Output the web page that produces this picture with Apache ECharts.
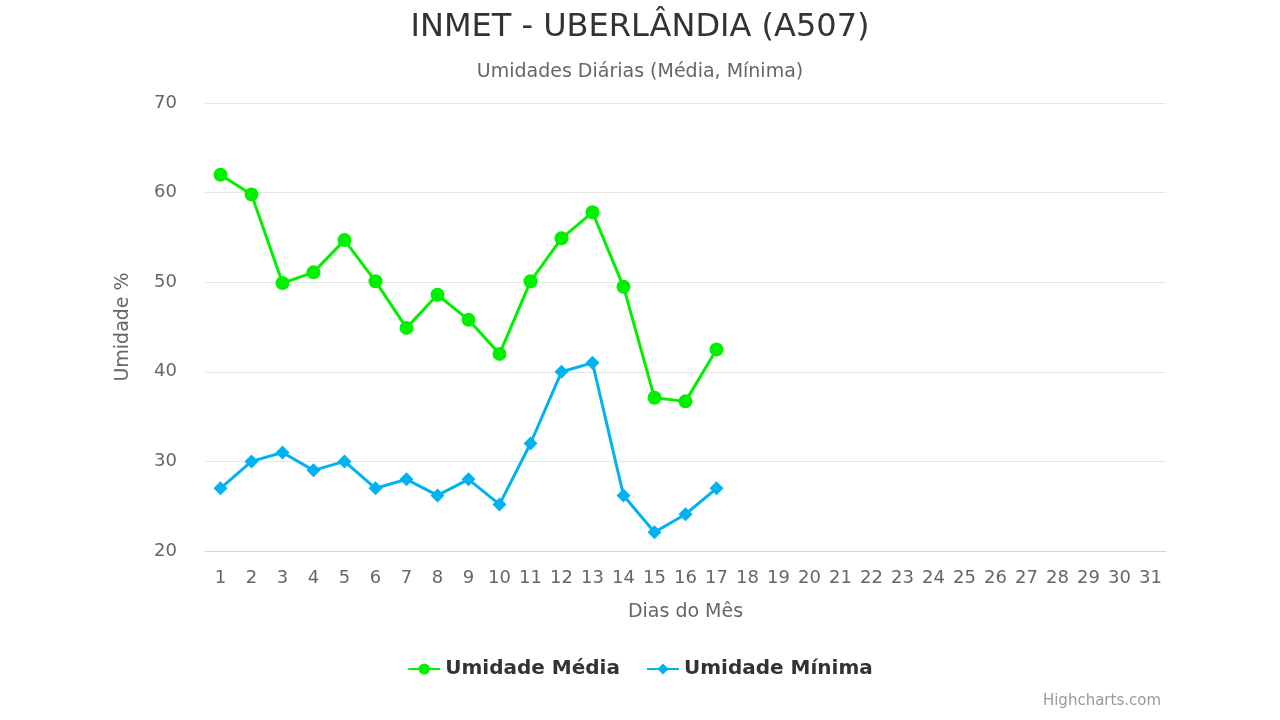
<!DOCTYPE html>
<html><head><meta charset="utf-8">
<script src="https://cdn.jsdelivr.net/npm/echarts@6/dist/echarts.min.js"></script>
<style>html,body{margin:0;padding:0;background:#fff}#c{width:1280px;height:720px}</style>
</head><body><div id="c"></div>
<script>
const days = Array.from({length:31},(_,i)=>String(i+1));
const umidadeMedia = [62, 59.8, 49.9, 51.1, 54.7, 50.1, 44.9, 48.6, 45.8, 42, 50.1, 54.9, 57.8, 49.5, 37.1, 36.7, 42.5];
const umidadeMinima = [27, 30, 31, 29, 30, 27, 28, 26.2, 28, 25.2, 32, 40, 41, 26.2, 22.1, 24.1, 27];
const F = 'DejaVu Sans';
const chart = echarts.init(document.getElementById('c'));
chart.setOption({
  animation:false,
  textStyle:{fontFamily:F},
  title:[{text:'INMET - UBERLÂNDIA (A507)',left:'center',top:7,textStyle:{fontFamily:F,fontSize:32,fontWeight:'normal',color:'#333'}},
         {text:'Umidades Diárias (Média, Mínima)',left:'center',top:58,textStyle:{fontFamily:F,fontSize:19,fontWeight:'normal',color:'#666'}},
         {text:'Highcharts.com',right:114,bottom:6,textStyle:{fontFamily:F,fontSize:15,fontWeight:'normal',color:'#999'}}],
  grid:{left:205,right:114,top:103,bottom:169},
  xAxis:{type:'category',data:days,boundaryGap:true,
    name:'Dias do Mês',nameLocation:'middle',nameGap:52,nameTextStyle:{fontSize:19,color:'#666',fontFamily:F},
    axisLine:{lineStyle:{color:'#ccd6eb'}},axisTick:{show:false},
    axisLabel:{fontSize:18,color:'#666',interval:0,margin:18}},
  yAxis:{type:'value',min:20,max:70,interval:10,
    name:'Umidade %',nameLocation:'middle',nameGap:72,nameTextStyle:{fontSize:19,color:'#666',fontFamily:F},
    axisLabel:{fontSize:18,color:'#666',margin:28},
    splitLine:{lineStyle:{color:'#e6e6e6',width:1}}},
  legend:{bottom:36,itemGap:26,itemWidth:32,itemHeight:14,
    textStyle:{fontSize:20,fontWeight:'bold',color:'#333',fontFamily:F},
    data:['Umidade Média','Umidade Mínima']},
  series:[
    {name:'Umidade Média',type:'line',data:umidadeMedia,color:'#00f000',symbol:'circle',symbolSize:14,showAllSymbol:true,lineStyle:{width:3}},
    {name:'Umidade Mínima',type:'line',data:umidadeMinima,color:'#00b3f0',symbol:'diamond',symbolSize:14,showAllSymbol:true,lineStyle:{width:3}}
  ]
});
</script></body></html>
